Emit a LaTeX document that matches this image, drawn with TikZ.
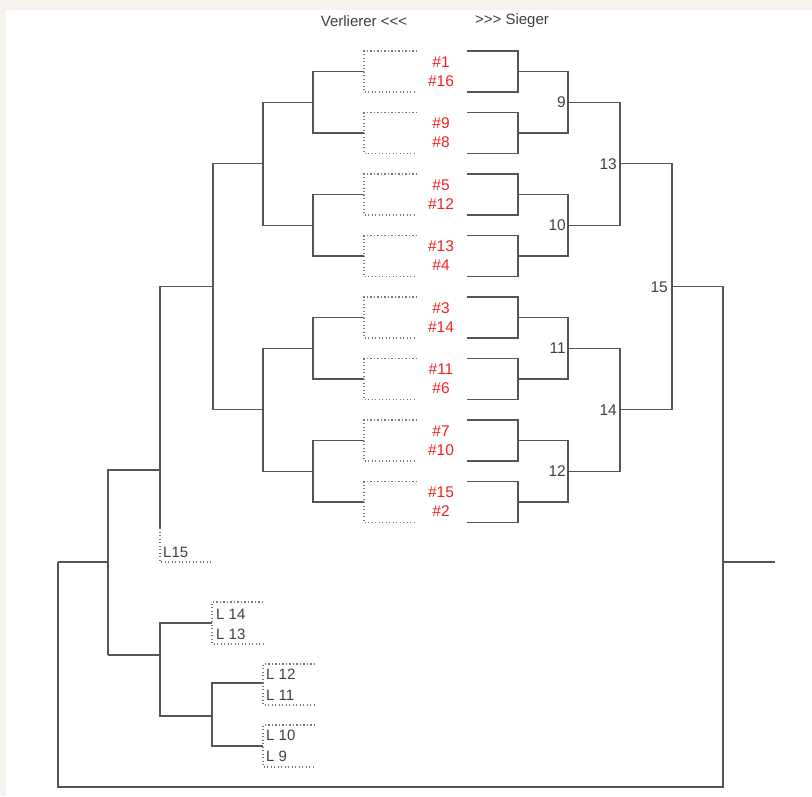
\documentclass[tikz,border=0pt]{standalone}
\usepackage{fontspec}
\setmainfont{Liberation Sans}[Ligatures=TeXOff]
\definecolor{bgc}{HTML}{F6F3EE}
\definecolor{lnc}{HTML}{555555}
\definecolor{txc}{HTML}{404040}
\definecolor{redc}{HTML}{F02020}
\begin{document}
\begin{tikzpicture}[x=1pt,y=-1pt,
  ln/.style={draw=lnc,line width=1.4pt},
  dt/.style={draw=lnc!80,line width=1.1pt,dash pattern=on 1.3pt off 2.2pt},
  seed/.style={text=redc,font=\fontsize{15.5}{17}\selectfont,inner sep=0pt,anchor=center},
  num/.style={text=txc,font=\fontsize{15.5}{17}\selectfont,inner sep=0pt,anchor=east},
  ll/.style={text=txc,font=\fontsize{15}{17}\selectfont,inner sep=0pt,anchor=west},
  hd/.style={text=txc,font=\fontsize{15}{17}\selectfont,inner sep=0pt,anchor=center}]
\fill[bgc] (0,0) rectangle (812,796);
\fill[white] (6,10) rectangle (812,796);
\useasboundingbox (0,0) rectangle (812,796);

% header
\node[hd] (hl) at (364,21) {Verlierer <<<};
\node[hd] (hr) at (512,21) {>>> Sieger};

% first round pairs
\foreach \k/\a/\c in {0/1/16,1/9/8,2/5/12,3/13/4,4/3/14,5/11/6,6/7/10,7/15/2} {
  \pgfmathsetmacro\t{51+61.5*\k}
  \pgfmathsetmacro\b{\t+41}
  \pgfmathsetmacro\m{\t+20.5}
  \coordinate (wt\k) at (467,\t);
  \coordinate (wb\k) at (467,\b);
  \coordinate (wm\k) at (518,\m);
  \coordinate (lt\k) at (417,\t);
  \coordinate (lb\k) at (417,\b);
  \coordinate (lm\k) at (364,\m);
  \draw[ln] (wt\k) -| (wm\k) |- (wb\k);
  \draw[dt] (lt\k) -| (lm\k) |- (lb\k);
  \node[seed] (sa\k) at (441,\t+11) {\#\a};
  \node[seed] (sc\k) at (441,\t+30) {\#\c};
}

% winner side games
\coordinate (w9)  at (568,102.25);
\coordinate (w10) at (568,225.25);
\coordinate (w11) at (568,348.25);
\coordinate (w12) at (568,471.25);
\coordinate (w13) at (620,163.75);
\coordinate (w14) at (620,409.75);
\coordinate (w15) at (672,286.75);
\coordinate (wf)  at (723,286.75);
\coordinate (fo)  at (723,562);
\coordinate (fe)  at (775,562);
\coordinate (bl)  at (58,787);
\coordinate (rt)  at (58,562);

\draw[ln] (wm0) -| (w9)  |- (wm1);
\draw[ln] (wm2) -| (w10) |- (wm3);
\draw[ln] (wm4) -| (w11) |- (wm5);
\draw[ln] (wm6) -| (w12) |- (wm7);
\draw[ln] (w9)  -| (w13) |- (w10);
\draw[ln] (w11) -| (w14) |- (w12);
\draw[ln] (w13) -| (w15) |- (w14);
\draw[ln] (w15) -- (wf) |- (bl) -- (rt);
\draw[ln] (fo) -- (fe);

\node[num] (n9)  at (566,102.25) {9};
\node[num] (n10) at (566,225.25) {10};
\node[num] (n11) at (566,348.25) {11};
\node[num] (n12) at (566,471.25) {12};
\node[num] (n13) at (617,163.75) {13};
\node[num] (n14) at (617,409.75) {14};
\node[num] (n15) at (668,286.75) {15};

% loser side, upper tree
\coordinate (g1) at (313,102.25);
\coordinate (g2) at (313,225.25);
\coordinate (g3) at (313,348.25);
\coordinate (g4) at (313,471.25);
\coordinate (h1) at (263,163.75);
\coordinate (h2) at (263,409.75);
\coordinate (i1) at (213,286.75);
\coordinate (j1) at (160,470);
\coordinate (j2) at (160,528);
\coordinate (j3) at (160,562);
\coordinate (j4) at (213,562);
\coordinate (k1) at (108,562);
\coordinate (k2) at (108,655);

\draw[ln] (lm0) -| (g1) |- (lm1);
\draw[ln] (lm2) -| (g2) |- (lm3);
\draw[ln] (lm4) -| (g3) |- (lm5);
\draw[ln] (lm6) -| (g4) |- (lm7);
\draw[ln] (g1) -| (h1) |- (g2);
\draw[ln] (g3) -| (h2) |- (g4);
\draw[ln] (h1) -| (i1) |- (h2);
\draw[ln] (i1) -| (j2);
\draw[dt] (j2) -- (j3) -- (j4);
\draw[ln] (j1) -| (k2);
\draw[ln] (rt) -- (k1);
\node[ll] (l15) at (163,552) {L15};

% loser side, lower tree
\coordinate (m1) at (160,655);
\coordinate (p1) at (212,623);
\coordinate (p2) at (212,716);
\coordinate (q1) at (263,683);
\coordinate (q2) at (263,746);
\draw[ln] (k2) -- (m1);
\draw[ln] (p1) -| (m1) |- (p2);
\draw[ln] (q1) -| (p2) |- (q2);

\coordinate (b14t) at (263,602);
\coordinate (b14b) at (263,644);
\draw[dt] (b14t) -| (p1) |- (b14b);
\coordinate (b12t) at (315,664);
\coordinate (b12b) at (315,705);
\draw[dt] (b12t) -| (q1) |- (b12b);
\coordinate (b10t) at (315,725);
\coordinate (b10b) at (315,767);
\draw[dt] (b10t) -| (q2) |- (b10b);

\node[ll] (l14) at (216,614) {L 14};
\node[ll] (l13) at (216,634) {L 13};
\node[ll] (l12) at (266,674) {L 12};
\node[ll] (l11) at (266,695) {L 11};
\node[ll] (l10) at (266,735) {L 10};
\node[ll] (l9)  at (266,756) {L 9};
\end{tikzpicture}
\end{document}
